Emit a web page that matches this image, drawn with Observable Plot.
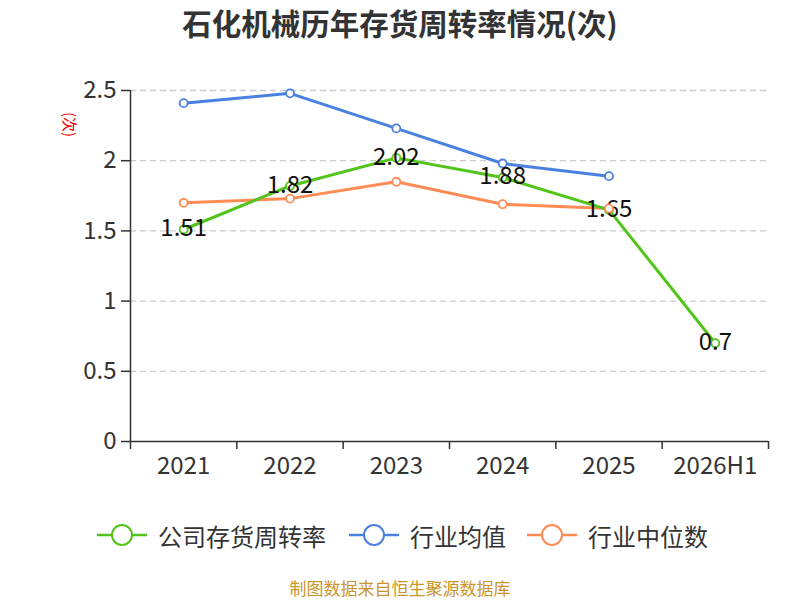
<!DOCTYPE html>
<html><head><meta charset="utf-8">
<script src="https://cdn.jsdelivr.net/npm/d3@7"></script>
<script src="https://cdn.jsdelivr.net/npm/@observablehq/plot@0.6"></script>
<style>
body{margin:0;background:#fff;font-family:"Noto Sans CJK SC","Noto Sans",sans-serif;}
#wrap{position:relative;width:800px;height:600px;overflow:hidden;}
#title{position:absolute;top:0;left:0;width:800px;height:44px;line-height:44px;text-align:center;font-size:29.5px;font-weight:bold;color:#333;}
#chart{position:absolute;top:45px;left:0;}
#ylab{position:absolute;left:58px;top:114px;color:#e00;font-size:15px;transform:rotate(90deg);transform-origin:center;}
#legend{position:absolute;top:518px;left:0;width:800px;height:34px;}
.item{position:absolute;top:0;display:flex;align-items:center;font-size:24px;color:#333;height:34px;}
#caption{position:absolute;top:578px;left:0;width:800px;text-align:center;font-size:17px;line-height:20px;color:#c9962b;}
</style></head>
<body><div id="wrap">
<div id="title">石化机械历年存货周转率情况(次)</div>
<div id="chart"></div>
<div id="ylab">(次)</div>
<div id="legend"></div>
<div id="caption">制图数据来自恒生聚源数据库</div>
</div>
<script>
const categories = ["2021","2022","2023","2024","2025","2026H1"];
const companyValues = [1.51,1.82,2.02,1.88,1.65,0.7];
const industryAvg = [2.41,2.48,2.23,1.98,1.89];
const industryMedian = [1.70,1.73,1.85,1.69,1.66];
const seriesNames = ["公司存货周转率","行业均值","行业中位数"];
const colors = ["#52c41a","#4a80e0","#ff8c55"];
const yTicks = [0,0.5,1,1.5,2,2.5];

const mk = (vals) => vals.map((v,i)=>({x:i+0.5, y:v, label:String(v)}));
const comp = mk(companyValues), avg = mk(industryAvg), med = mk(industryMedian);
const centers = categories.map((c,i)=>i+0.5);
const bounds = d3.range(categories.length+1);

const plot = Plot.plot({
  width:800, height:445,
  marginTop:45, marginBottom:49, marginLeft:130, marginRight:32,
  style:{fontFamily:"'Noto Sans CJK SC','Noto Sans',sans-serif", color:"#333", background:"transparent"},
  x:{type:"linear", domain:[0,categories.length]},
  y:{domain:[0,2.5]},
  marks:[
    Plot.ruleY(yTicks.filter(t=>t>0), {stroke:"#ccc", strokeDasharray:"6,4", strokeWidth:1.3}),
    Plot.axisY({ticks:yTicks, tickSize:9, tickPadding:5, fontSize:24, tickFormat:d=>String(d), stroke:"#333", strokeWidth:1.5, strokeOpacity:1, label:null}),
    Plot.ruleX([0], {stroke:"#333", strokeWidth:1.5}),
    Plot.ruleY([0], {stroke:"#333", strokeWidth:1.5}),
    Plot.axisX({ticks:bounds, tickSize:8, tickFormat:()=>"", stroke:"#333", strokeWidth:1.5, strokeOpacity:1, label:null}),
    Plot.axisX({ticks:centers, tickSize:0, tickPadding:15, fontSize:24, tickFormat:d=>categories[Math.round(d-0.5)], label:null}),
    Plot.line(avg, {x:"x", y:"y", stroke:colors[1], strokeWidth:3}),
    Plot.line(med, {x:"x", y:"y", stroke:colors[2], strokeWidth:3}),
    Plot.line(comp, {x:"x", y:"y", stroke:colors[0], strokeWidth:3}),
    Plot.dot(avg, {x:"x", y:"y", r:4, fill:"#fff", stroke:colors[1], strokeWidth:1.8}),
    Plot.dot(comp, {x:"x", y:"y", r:4, fill:"#fff", stroke:colors[0], strokeWidth:1.8}),
    Plot.text(comp, {x:"x", y:"y", text:"label", fontSize:24, fill:"#111", dy:-1}),
    Plot.dot(med, {x:"x", y:"y", r:4, fill:"#fff", stroke:colors[2], strokeWidth:1.8})
  ]
});
document.getElementById("chart").appendChild(plot);

const lefts = [97, 349, 527];
const legend = document.getElementById("legend");
seriesNames.forEach((n,i)=>{
  const d = document.createElement("div");
  d.className = "item";
  d.style.left = lefts[i]+"px";
  d.innerHTML = `<svg width="61" height="34"><line x1="0" x2="50" y1="17" y2="17" stroke="${colors[i]}" stroke-width="2.5"/><circle cx="25" cy="17" r="10" fill="#fff" stroke="${colors[i]}" stroke-width="2"/></svg><span>${n}</span>`;
  legend.appendChild(d);
});
</script>
</body></html>
